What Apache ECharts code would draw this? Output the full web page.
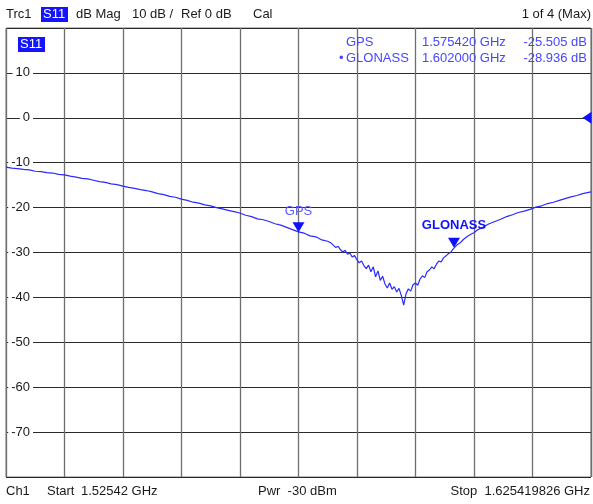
<!DOCTYPE html>
<html>
<head>
<meta charset="utf-8">
<script src="https://cdn.jsdelivr.net/npm/echarts@6/dist/echarts.min.js"></script>
<style>
html,body{margin:0;padding:0;background:#fff;}
#chart{width:593px;height:504px;}
</style>
</head>
<body>
<div id="chart"></div>
<script>
// Frequency (GHz) of each trace point
const freqs = [
1.52542,1.5264,1.5274,1.5284,1.5294,1.5304,1.5314,1.5324,1.5334,1.5344,
1.5354,1.5364,1.5374,1.5384,1.5394,1.5404,1.5414,1.5424,1.5434,1.5444,
1.5454,1.5464,1.5474,1.5484,1.5494,1.5504,1.5514,1.5524,1.5534,1.5544,
1.5554,1.5564,1.5574,1.5584,1.5594,1.5604,1.5614,1.5624,1.5634,1.5644,
1.5654,1.5664,1.5674,1.5684,1.5694,1.5704,1.5714,1.5724,1.5734,1.5744,
1.5754,1.5764,1.5774,1.5784,1.5794,1.5804,1.5810,
1.5814,1.5818,1.5822,1.5826,1.5830,1.5834,1.5838,1.5842,1.5846,1.5850,
1.5854,1.5858,1.5862,1.5866,1.5870,1.5874,1.5878,1.5882,1.5886,1.5890,
1.5894,1.5898,1.5902,1.5906,1.5910,1.5914,1.5918,1.5922,1.5926,1.5930,
1.5934,1.5938,1.5942,1.5946,1.5950,1.5954,1.5958,1.5962,1.5966,1.5970,
1.5974,1.5978,1.5982,1.5986,1.5990,1.5994,1.5998,1.6002,1.6006,1.6010,
1.6014,1.6018,1.6020,1.6026,1.6030,1.6036,1.6042,1.6048,1.6054,1.6060,
1.6070,1.6080,1.6090,1.6100,1.6110,1.6120,1.6130,1.6140,1.6150,1.6160,
1.6170,1.6180,1.6190,1.6200,1.6210,1.6220,1.6230,1.6240,1.625419826
];
// S11 magnitude (dB)
const s11dB = [
-11.0,-11.2,-11.3,-11.5,-11.6,-11.9,-12.0,-12.2,-12.3,-12.6,
-12.7,-13.0,-13.2,-13.5,-13.6,-13.9,-14.2,-14.4,-14.7,-14.9,
-15.2,-15.5,-15.7,-16.0,-16.2,-16.5,-16.9,-17.1,-17.5,-17.7,
-18.1,-18.4,-18.8,-19.0,-19.4,-19.6,-20.0,-20.3,-20.6,-20.9,
-21.2,-21.7,-22.0,-22.5,-22.7,-23.1,-23.6,-23.9,-24.4,-24.9,
-25.4,-25.7,-26.3,-26.5,-27.2,-27.5,-27.9,
-28.4,-28.9,-28.6,-29.4,-29.9,-29.5,-30.4,-30.1,-31.0,-30.7,
-31.6,-32.3,-31.9,-32.9,-33.6,-32.8,-34.3,-33.2,-35.4,-34.1,
-36.2,-35.3,-37.0,-37.9,-36.8,-38.2,-37.6,-38.8,-38.0,-39.6,
-41.7,-39.2,-38.1,-38.6,-37.2,-36.8,-37.3,-35.9,-35.2,-35.6,
-34.3,-33.9,-33.2,-33.6,-32.6,-31.9,-32.1,-31.2,-30.8,-30.3,
-30.0,-29.3,-28.94,-28.2,-27.9,-27.1,-26.5,-26.0,-25.6,-25.0,
-24.3,-23.6,-23.1,-22.6,-22.0,-21.6,-21.1,-20.8,-20.4,-19.9,
-19.6,-19.1,-18.8,-18.4,-18.0,-17.6,-17.3,-16.9,-16.5
];
// Markers
const markerNames = ['GPS', 'GLONASS'];
const markerFreqs = [1.575420, 1.602000];
const markerValues = [-25.505, -28.936];
const markerFreqText = ['1.575420 GHz', '1.602000 GHz'];
const markerValText = ['-25.505 dB', '-28.936 dB'];
// Axis settings
const yTicks = [10, 0, -10, -20, -30, -40, -50, -60, -70];
const startFreq = 1.52542, stopFreq = 1.625419826;
const refLevel = 0;

const FONT = '"Liberation Sans", Arial, sans-serif';
const MBLUE = '#4646ff';

const chart = echarts.init(document.getElementById('chart'), null, {renderer: 'canvas'});

const markData = markerNames.map((n, i) => ({
  name: n,
  coord: [markerFreqs[i], markerValues[i]],
  symbol: 'triangle',
  symbolRotate: 180,
  symbolSize: [12, 10],
  symbolOffset: [0, '-50%'],
  itemStyle: {color: '#1010ff'},
  label: {
    show: true, position: 'top', distance: i === 0 ? 4 : 6,
    formatter: n,
    color: i === 0 ? '#5a5aff' : '#1010ff',
    fontWeight: i === 0 ? 'normal' : 'bold',
    fontSize: 13, fontFamily: FONT
  }
}));
markData.push({
  name: 'ref',
  coord: [stopFreq, refLevel],
  symbol: 'triangle',
  symbolRotate: 90,
  symbolSize: [12, 9],
  symbolOffset: [-4, 0],
  itemStyle: {color: '#1010ff'},
  label: {show: false}
});

const txt = (t, x, y, opts = {}) => ({
  type: 'text', z: 100,
  style: Object.assign({text: t, x: x, y: y, font: '13px ' + FONT, fill: '#1a1a1a',
    align: 'left', verticalAlign: 'middle'}, opts)
});

const graphics = [
  txt('Trc1', 6, 14),
  {type: 'rect', z: 99, shape: {x: 41, y: 7, width: 27, height: 15}, style: {fill: '#1414ff'}},
  txt('S11', 43, 14.5, {fill: '#fff'}),
  txt('dB Mag', 76, 14),
  txt('10 dB /', 132, 14),
  txt('Ref 0 dB', 181, 14),
  txt('Cal', 253, 14),
  txt('1 of 4 (Max)', 591, 14, {align: 'right'}),
  {type: 'rect', z: 99, shape: {x: 18, y: 37, width: 27, height: 15}, style: {fill: '#1414ff'}},
  txt('S11', 20, 44.5, {fill: '#fff'}),
  txt('Ch1', 6, 491),
  txt('Start', 47, 491),
  txt('1.52542 GHz', 81, 491),
  txt('Pwr  -30 dBm', 258, 491),
  txt('Stop  1.625419826 GHz', 590, 491, {align: 'right'})
];
markerNames.forEach((n, i) => {
  const y = 42 + i * 16;
  if (i === 1) graphics.push(txt('•', 339, y, {fill: MBLUE}));
  graphics.push(txt(n, 346, y, {fill: MBLUE}));
  graphics.push(txt(markerFreqText[i], 422, y, {fill: MBLUE}));
  graphics.push(txt(markerValText[i], 587, y, {fill: MBLUE, align: 'right'}));
});

chart.setOption({
  animation: false,
  backgroundColor: '#fff',
  grid: {left: 6, right: 2, top: 28, bottom: 27, show: true, borderColor: '#7a7a7a', borderWidth: 1, containLabel: false},
  xAxis: {
    type: 'value', min: startFreq, max: stopFreq, interval: (stopFreq - startFreq) / 10,
    axisLine: {show: false}, axisTick: {show: false}, axisLabel: {show: false},
    splitLine: {show: true, lineStyle: {color: '#6e6e6e', width: 1.3}}
  },
  yAxis: {
    type: 'value', min: -80, max: 20, interval: 10,
    axisLine: {show: false}, axisTick: {show: false},
    axisLabel: {
      inside: true, align: 'right', margin: 27,
      color: '#1a1a1a', fontSize: 13, fontFamily: FONT,
      backgroundColor: '#fff', padding: [0, 3],
      formatter: v => (yTicks.indexOf(v) >= 0 ? String(v) : '')
    },
    splitLine: {show: true, lineStyle: {color: '#2a2a2a', width: 1}}
  },
  series: [{
    type: 'line',
    data: freqs.map((f, i) => [f, s11dB[i]]),
    showSymbol: false,
    lineStyle: {color: '#2b2bff', width: 1.2},
    z: 5,
    markPoint: {data: markData, z: 10}
  }],
  graphic: graphics
});
</script>
</body>
</html>
